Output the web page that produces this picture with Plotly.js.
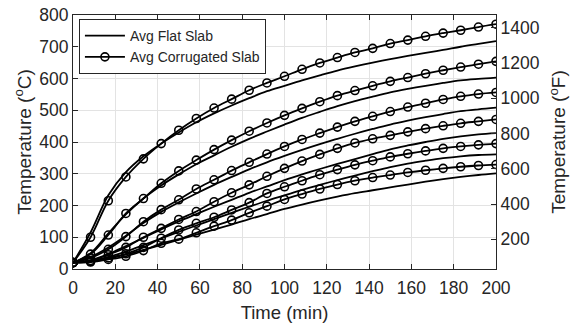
<!DOCTYPE html>
<html>
<head>
<meta charset="utf-8">
<script src="https://cdn.plot.ly/plotly-3.0.1.min.js"></script>
<style>
html,body{margin:0;padding:0;background:#fff;}
#chart{width:571px;height:326px;}
</style>
</head>
<body>
<div id="chart"></div>
<script>
// Time (min) at marker positions
const time = [0, 8.3, 16.7, 25, 33.3, 41.7, 50, 58.3, 66.7, 75, 83.3, 91.7, 100,
              108.3, 116.7, 125, 133.3, 141.7, 150, 158.3, 166.7, 175, 183.3, 191.7, 200];

// Avg Flat Slab curves (°C)
const flat1 = [20, 115, 232, 305, 355, 395, 430, 462, 490, 515, 538, 560, 577, 594, 610, 625, 638, 650, 661, 671, 681, 690, 700, 709, 718];
const flat2 = [20, 50, 112, 172, 222, 263, 298, 330, 358, 385, 410, 433, 455, 476, 495, 513, 529, 543, 556, 567, 577, 586, 594, 599, 603];
const flat3 = [20, 38, 68, 105, 145, 180, 210, 238, 265, 290, 314, 336, 356, 375, 393, 410, 426, 441, 455, 467, 478, 488, 497, 503, 508];
const flat4 = [20, 28, 47, 72, 98, 125, 150, 173, 196, 218, 240, 260, 280, 298, 315, 331, 346, 362, 377, 389, 400, 410, 418, 424, 428];
const flat5 = [20, 25, 38, 55, 75, 96, 117, 137, 157, 177, 196, 215, 232, 249, 265, 280, 294, 308, 321, 332, 341, 349, 355, 359, 361];
const flat6 = [20, 23, 32, 45, 60, 76, 92, 108, 124, 140, 157, 173, 189, 203, 216, 228, 239, 248, 257, 266, 275, 283, 290, 296, 301];

// Avg Corrugated Slab curves (°C)
const corr1 = [20, 100, 215, 290, 347, 395, 437, 474, 507, 535, 563, 586, 607, 629, 649, 666, 682, 695, 710, 721, 733, 743, 752, 762, 771];
const corr2 = [20, 47, 107, 175, 222, 270, 309, 343, 376, 406, 434, 460, 484, 506, 527, 546, 562, 577, 591, 603, 615, 626, 636, 645, 654];
const corr3 = [20, 35, 62, 102, 149, 187, 218, 252, 281, 310, 336, 362, 386, 408, 428, 447, 465, 481, 496, 510, 522, 534, 544, 551, 556];
const corr4 = [20, 27, 45, 68, 100, 128, 156, 181, 212, 240, 265, 292, 317, 340, 361, 380, 397, 410, 421, 432, 442, 451, 459, 465, 471];
const corr5 = [20, 24, 35, 48, 68, 97, 123, 144, 163, 186, 209, 238, 259, 278, 297, 313, 328, 341, 353, 363, 372, 380, 386, 391, 395];
const corr6 = [20, 22, 30, 40, 58, 81, 94, 114, 135, 154, 177, 198, 219, 236, 252, 266, 278, 288, 296, 304, 311, 317, 322, 326, 329];

const xTicks = [0, 20, 40, 60, 80, 100, 120, 140, 160, 180, 200];
const yTicksC = [0, 100, 200, 300, 400, 500, 600, 700, 800];
const yTicksF = [200, 400, 600, 800, 1000, 1200, 1400];

const flats = [flat1, flat2, flat3, flat4, flat5, flat6];
const corrs = [corr1, corr2, corr3, corr4, corr5, corr6];

const traces = [];
flats.forEach((f, i) => {
  traces.push({
    x: time, y: f, type: 'scatter', mode: 'lines',
    name: 'Avg Flat Slab', showlegend: i === 0, legendgroup: 'flat',
    line: {color: '#000000', width: 1.8, shape: 'spline', smoothing: 1},
    hoverinfo: 'skip'
  });
});
corrs.forEach((c, i) => {
  traces.push({
    x: time, y: c, type: 'scatter', mode: 'lines+markers',
    name: 'Avg Corrugated Slab', showlegend: i === 0, legendgroup: 'corr',
    line: {color: '#000000', width: 1.8, shape: 'spline', smoothing: 1},
    marker: {symbol: 'circle-open', size: 8, color: '#000000', line: {width: 1.6, color: '#000000'}},
    hoverinfo: 'skip'
  });
});
// Invisible companion trace on the °F axis (converted from corr1)
traces.push({
  x: time, y: corr1.map(v => v * 9 / 5 + 32), yaxis: 'y2', type: 'scatter', mode: 'lines',
  line: {color: 'rgba(0,0,0,0)', width: 0}, showlegend: false, hoverinfo: 'skip'
});

const cMin = 0, cMax = 800;
const txt = '#262626';
const fam = 'Liberation Sans, Arial, Helvetica, sans-serif';
const layout = {
  width: 571, height: 326,
  margin: {l: 73, r: 75, t: 15, b: 57},
  paper_bgcolor: '#ffffff', plot_bgcolor: '#ffffff',
  font: {family: fam, size: 17.5, color: txt},
  showlegend: true,
  legend: {
    x: 0.014, y: 0.984, xanchor: 'left', yanchor: 'top',
    bgcolor: '#ffffff', bordercolor: txt, borderwidth: 1,
    font: {family: fam, size: 14, color: txt}, tracegroupgap: 0, itemwidth: 40
  },
  xaxis: {
    range: [0, 200], tickvals: xTicks, ticks: 'inside', ticklen: 5, tickcolor: txt,
    showline: true, linecolor: txt, linewidth: 1, mirror: 'ticks',
    showgrid: true, gridcolor: '#e3e3e3', gridwidth: 1, zeroline: false,
    ticklabelstandoff: 3,
    title: {text: 'Time (min)', font: {family: fam, size: 18.5, color: txt}, standoff: 9},
    tickfont: {family: fam, size: 17.5, color: txt}
  },
  yaxis: {
    range: [cMin, cMax], tickvals: yTicksC, ticks: 'inside', ticklen: 5, tickcolor: txt,
    showline: true, linecolor: txt, linewidth: 1, mirror: false,
    showgrid: true, gridcolor: '#e3e3e3', gridwidth: 1, zeroline: false,
    title: {text: 'Temperature (<sup>o</sup>C)', font: {family: fam, size: 19, color: txt}, standoff: 2},
    tickfont: {family: fam, size: 17.5, color: txt}
  },
  yaxis2: {
    overlaying: 'y', side: 'right', anchor: 'x',
    range: [cMin * 9 / 5 + 32, cMax * 9 / 5 + 32], tickvals: yTicksF,
    ticks: 'inside', ticklen: 5, tickcolor: txt,
    showline: true, linecolor: txt, linewidth: 1,
    showgrid: false, zeroline: false,
    title: {text: 'Temperature (<sup>o</sup>F)', font: {family: fam, size: 19, color: txt}, standoff: 13},
    tickfont: {family: fam, size: 17.5, color: txt}
  }
};

Plotly.newPlot('chart', traces, layout, {displayModeBar: false, staticPlot: true});
</script>
</body>
</html>
